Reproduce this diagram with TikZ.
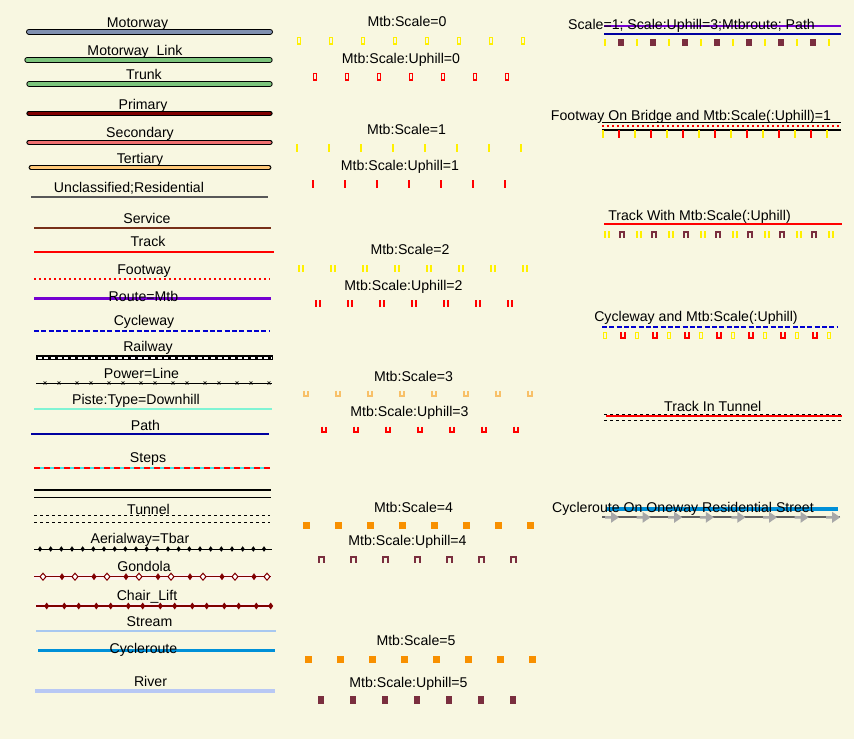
\documentclass[tikz,border=0pt]{standalone}
\usepackage{fontspec}
\setmainfont{Liberation Sans}
\definecolor{paper}{HTML}{F8F7E1}
\definecolor{motorway}{HTML}{8090B0}
\definecolor{trunkgreen}{HTML}{7CC47C}
\definecolor{primary}{HTML}{800000}
\definecolor{secondary}{HTML}{F07070}
\definecolor{tertiary}{HTML}{FFC878}
\definecolor{minorgrey}{HTML}{585858}
\definecolor{service}{HTML}{783018}
\definecolor{mtbroute}{HTML}{7400D0}
\definecolor{cycleblue}{HTML}{0000D0}
\definecolor{piste}{HTML}{80F4D4}
\definecolor{pathblue}{HTML}{0000A0}
\definecolor{stepcyan}{HTML}{40E8E8}
\definecolor{liftred}{HTML}{800000}
\definecolor{ropeband}{HTML}{FCF3F0}
\definecolor{stream}{HTML}{A8C8F0}
\definecolor{cycleroute}{HTML}{0090D8}
\definecolor{river}{HTML}{B8C8F4}
\definecolor{mtbyellow}{HTML}{FFF000}
\definecolor{mtbred}{HTML}{FF0000}
\definecolor{mtbsand}{HTML}{F8C068}
\definecolor{mtborange}{HTML}{F89000}
\definecolor{mtbmaroon}{HTML}{7A2E3E}
\definecolor{onewaygrey}{HTML}{A8A8A8}
\definecolor{streetgrey}{HTML}{606060}
\tikzset{
    every node/.style={font=\fontsize{10.6}{12}\selectfont, inner sep=0pt,
    	anchor=base}
}
\tikzset{
    cased/.style={line width=0.75pt, double=#1, double distance=2.5pt,
    	line cap=round},
    boxmark/.pic={\draw[line width=1.1pt] (-1.7,-3.2) rectangle (1.7,3.2);},
    tickmark/.pic={\fill (-1.1,-3.8) rectangle (1.1,3.8);},
    dtickmark/.pic={\fill (-3.4,-3.4) rectangle (-1.2,3.4);
    	\fill (1.2,-3.4) rectangle (3.4,3.4);},
    umark/.pic={\draw[line width=1.5pt] (-2.4,-3.4) -- (-2.4,2.4) -- (2.4,2.4)
    	-- (2.4,-3.4);},
    nmark/.pic={\draw[line width=1.5pt] (-2.4,3.4) -- (-2.4,-2.4) -- (2.4,-2.4)
    	-- (2.4,3.4);},
    sqmark/.pic={\fill (-3.5,-3.5) rectangle (3.5,3.5);},
    smallsq/.pic={\fill (-2.8,-3.6) rectangle (2.8,3.6);},
    xmark/.pic={\draw[line width=0.45pt] (-1.4,-1.6) -- (1.4,1.6)
    	(-1.4,1.6) -- (1.4,-1.6);},
    dia/.pic={\fill (-2.5,0) -- (0,-3.5) -- (2.5,0) -- (0,3.5) -- cycle;},
    odia/.pic={\filldraw[fill=white, line width=0.75pt] (-3,0) -- (0,-3.5)
    	-- (3,0) -- (0,3.5) -- cycle;},
    onearrow/.pic={\fill (-14,-1.2) -- (-8,-1.2) -- (-8,-5.5) -- (0,0)
    	-- (-8,5.5) -- (-8,1.2) -- (-14,1.2) -- cycle;}
}

\begin{document}
\begin{tikzpicture}[x=0.75pt, y=-0.75pt]
	\fill[paper] (0,0) rectangle (854,739);
	\useasboundingbox (0,0) rectangle (854,739);

	% left column: ways
	\draw[cased=motorway, double distance=3pt] (29,31.7) -- (270,31.7);
	\draw[cased=trunkgreen] (27,60) -- (270,60);
	\draw[cased=trunkgreen] (29,84) -- (270,84);
	\draw[cased=primary] (29,113.3) -- (270,113.3);
	\draw[cased=secondary] (29,142.3) -- (270,142.3);
	\draw[cased=tertiary, double distance=2.1pt] (31,167.7) -- (269,167.7);
	\draw[minorgrey, line width=1.5pt] (31,196.7) -- (268,196.7);
	\draw[service, line width=1.5pt] (34,227.7) -- (271,227.7);
	\draw[red, line width=1.5pt] (34,251.7) -- (274,251.7);
	\draw[red, line width=1.5pt, dash pattern=on 1.5pt off 2.25pt]
		(34,279) -- (270,279);
	\draw[mtbroute, line width=2.3pt] (34,298.3) -- (271,298.3);
	\draw[cycleblue, line width=1.5pt, dash pattern=on 3.75pt off 1.75pt]
		(34,331) -- (270,331);
	\draw[black, line width=3.75pt] (36,357.7) -- (273,357.7);
	\draw[white, line width=1.5pt, dash pattern=on 3pt off 2pt]
		(37.5,357.7) -- (271.5,357.7);
	\draw[line width=0.6pt] (36,383) -- (272,383);
	\foreach \i in {0,...,7} \pic at ({45+32*\i},383) {xmark};
	\foreach \i in {0,...,6} \pic at ({59+32*\i},383) {xmark};
	\draw[piste, line width=1.8pt] (34,408.7) -- (272,408.7);
	\draw[pathblue, line width=1.5pt] (31,434.3) -- (269,434.3);
	\draw[stepcyan, line width=1.5pt] (34,467.7) -- (270,467.7);
	\draw[red, line width=1.5pt, dash pattern=on 4.5pt off 3pt]
		(34,467.7) -- (270,467.7);
	\draw[line width=0.9pt] (34,490) -- (271,490);
	\draw[line width=0.9pt] (34,497.3) -- (271,497.3);
	\draw[line width=0.75pt, dash pattern=on 2.25pt off 2.25pt]
		(34,515.7) -- (270,515.7);
	\draw[line width=0.75pt, dash pattern=on 2.25pt off 2.25pt]
		(34,522.7) -- (270,522.7);
	\draw[line width=0.75pt] (34,549) -- (272,549);
	\foreach \i in {0,...,21} \pic[scale=0.8] at ({40+10.667*\i},549) {dia};
	\fill[ropeband] (34,573.5) rectangle (271,580);
	\draw[liftred, line width=0.9pt] (34,576.7) -- (271,576.7);
	\foreach \i in {0,...,7} \pic[color=liftred] at ({43+32*\i},576.7) {odia};
	\foreach \i in {0,...,6} \pic[color=liftred] at ({62+32*\i},576.7) {dia};
	\fill[ropeband] (36,602.8) rectangle (272,609.2);
	\draw[liftred, line width=0.9pt] (36,606) -- (272,606);
	\foreach \i in {0,...,7} \pic[color=liftred] at ({46.7+32*\i},606) {dia};
	\foreach \i in {0,...,6} \pic[color=liftred] at ({64.3+32*\i},606) {dia};
	\draw[stream, line width=1.5pt] (36,631) -- (276,631);
	\draw[cycleroute, line width=2.6pt] (38,650.7) -- (275,650.7);
	\draw[river, line width=2.8pt] (35,690.7) -- (275,690.7);

	\node (motorway) at (137.5,27.7) {Motorway};
	\node (mwlink) at (135,55.3) {Motorway\_Link};
	\node (trunk) at (144,79) {Trunk};
	\node (primary) at (143,109) {Primary};
	\node (secondary) at (140,137) {Secondary};
	\node (tertiary) at (140,163) {Tertiary};
	\node (minor) at (129,192.7) {Unclassified;Residential};
	\node (service) at (147,223.3) {Service};
	\node (track) at (148,246.7) {Track};
	\node (footway) at (144,274) {Footway};
	\node (routemtb) at (143.5,301.7) {Route=Mtb};
	\node (cycleway) at (144,325) {Cycleway};
	\node (railway) at (148,351.7) {Railway};
	\node (power) at (141.5,378) {Power=Line};
	\node (piste) at (136,404.3) {Piste:Type=Downhill};
	\node (path) at (145.5,430) {Path};
	\node (steps) at (148,462) {Steps};
	\node (tunnel) at (148.5,514) {Tunnel};
	\node (tbar) at (140,543) {Aerialway=Tbar};
	\node (gondola) at (144,571) {Gondola};
	\node (chairlift) at (147,600) {Chair\_Lift};
	\node (stream) at (149.5,626.7) {Stream};
	\node (cycleroute) at (143.5,653.3) {Cycleroute};
	\node (river) at (150.5,686) {River};

	% middle column: mtb scales
	\node (scale0) at (407,26.7) {Mtb:Scale=0};
	\foreach \i in {0,...,7} \pic[color=mtbyellow] at ({299+32*\i},40.7) {boxmark};
	\node (uphill0) at (401,63.3) {Mtb:Scale:Uphill=0};
	\foreach \i in {0,...,6} \pic[color=mtbred] at ({315+32*\i},76.7) {boxmark};
	\node (scale1) at (406.5,134) {Mtb:Scale=1};
	\foreach \i in {0,...,7} \pic[color=mtbyellow] at ({297+32*\i},147.7) {tickmark};
	\node (uphill1) at (400,170) {Mtb:Scale:Uphill=1};
	\foreach \i in {0,...,6} \pic[color=mtbred] at ({313+32*\i},184) {tickmark};
	\node (scale2) at (410,254.3) {Mtb:Scale=2};
	\foreach \i in {0,...,7} \pic[color=mtbyellow] at ({301+32*\i},268.3) {dtickmark};
	\node (uphill2) at (403.5,290) {Mtb:Scale:Uphill=2};
	\foreach \i in {0,...,6} \pic[color=mtbred] at ({318+32*\i},303.3) {dtickmark};
	\node (scale3) at (413.5,381) {Mtb:Scale=3};
	\foreach \i in {0,...,7} \pic[color=mtbsand] at ({306+32*\i},394) {umark};
	\node (uphill3) at (409.5,416.7) {Mtb:Scale:Uphill=3};
	\foreach \i in {0,...,6} \pic[color=mtbred] at ({324+32*\i},430) {umark};
	\node (scale4) at (413.5,512.3) {Mtb:Scale=4};
	\foreach \i in {0,...,7} \pic[color=mtborange] at ({306+32*\i},525.7) {sqmark};
	\node (uphill4) at (407.5,545.7) {Mtb:Scale:Uphill=4};
	\foreach \i in {0,...,6} \pic[color=mtbmaroon] at ({321.5+32*\i},559.3) {nmark};
	\node (scale5) at (416,645.7) {Mtb:Scale=5};
	\foreach \i in {0,...,7} \pic[color=mtborange] at ({308+32*\i},659) {sqmark};
	\node (uphill5) at (408.5,687.7) {Mtb:Scale:Uphill=5};
	\foreach \i in {0,...,6} \pic[color=mtbmaroon] at ({321+32*\i},700) {smallsq};

	% right column: combinations
	\draw[mtbroute, line width=1.9pt] (604,26) -- (841,26);
	\draw[pathblue, line width=1.5pt] (604,34) -- (841,34);
	\foreach \i in {0,...,7} \pic[color=mtbyellow] at ({605+32*\i},42.3) {tickmark};
	\foreach \i in {0,...,6} \pic[color=mtbmaroon] at ({621+32*\i},42.3) {smallsq};
	\node (mtbpath) at (691.5,29.3) {Scale=1; Scale:Uphill=3;Mtbroute; Path};

	\draw[line width=0.9pt] (602,122.3) -- (841,122.3);
	\draw[line width=0.9pt] (602,130) -- (841,130);
	\draw[red, line width=1.5pt, dash pattern=on 1.5pt off 2.25pt]
		(602,125.9) -- (841,125.9);
	\foreach \i in {0,...,7} \pic[color=mtbyellow] at ({603+32*\i},134) {tickmark};
	\foreach \i in {0,...,6} \pic[color=mtbred] at ({619+32*\i},134) {tickmark};
	\node (bridgefoot) at (691,120) {Footway On Bridge and Mtb:Scale(:Uphill)=1};

	\draw[red, line width=1.5pt] (604,224.3) -- (842,224.3);
	\foreach \i in {0,...,7} \pic[color=mtbyellow] at ({607+32*\i},234.3) {dtickmark};
	\foreach \i in {0,...,6} \pic[color=mtbmaroon] at ({622+32*\i},234.3) {nmark};
	\node (trackmtb) at (699.5,220.7) {Track With Mtb:Scale(:Uphill)};

	\draw[cycleblue, line width=1.5pt, dash pattern=on 3.75pt off 1.75pt]
		(602,326.7) -- (838,326.7);
	\foreach \i in {0,...,7} \pic[color=mtbyellow] at ({605+32*\i},335.5) {boxmark};
	\foreach \i in {0,...,6} \pic[color=mtbred] at ({623+32*\i},335.5) {umark};
	\node (cyclemtb) at (696,321.7) {Cycleway and Mtb:Scale(:Uphill)};

	\draw[line width=0.75pt, dash pattern=on 2.25pt off 2.25pt]
		(604,414) -- (843,414);
	\draw[line width=0.75pt, dash pattern=on 2.25pt off 2.25pt]
		(604,420.7) -- (843,420.7);
	\draw[red, line width=1.5pt] (606,416) -- (842,416);
	\node (tracktunnel) at (712.8,411) {Track In Tunnel};

	\draw[cycleroute, line width=2.3pt] (606,509) -- (838,509);
	\draw[streetgrey, line width=1.5pt] (602,517.3) -- (840,517.3);
	\foreach \i in {0,...,7} \pic[color=onewaygrey] at ({619+31.6*\i},517.3) {onearrow};
	\node (oneway) at (683,512.7) {Cycleroute On Oneway Residential Street};
\end{tikzpicture}
\end{document}
